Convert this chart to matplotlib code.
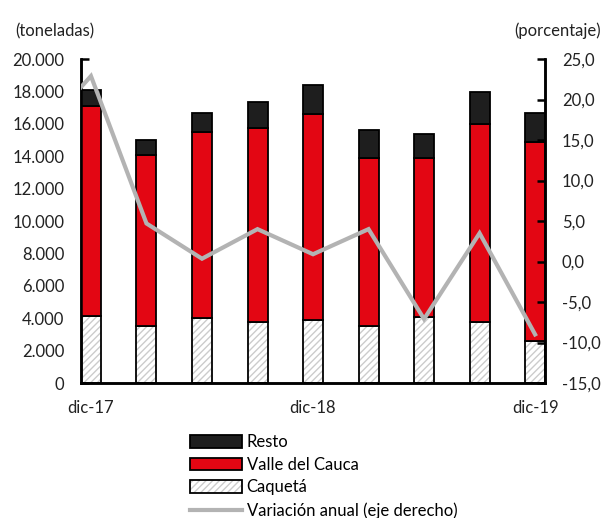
import matplotlib.pyplot as plt
from matplotlib.patches import Patch
from matplotlib.lines import Line2D
from matplotlib.legend_handler import HandlerTuple
import numpy as np

plt.rcParams['font.family'] = ['Lato', 'DejaVu Sans']
plt.rcParams['hatch.linewidth'] = 1.0

# datos trimestrales (toneladas)
periodos = ['dic-17', 'mar-18', 'jun-18', 'sep-18', 'dic-18', 'mar-19', 'jun-19', 'sep-19', 'dic-19']
caqueta = [4150, 3550, 4000, 3760, 3880, 3490, 4100, 3760, 2600]
valle = [12950, 10550, 11500, 11990, 12720, 10410, 9800, 12240, 12300]
resto = [1000, 880, 1180, 1620, 1770, 1740, 1480, 1970, 1740]
# variacion anual (%), el primer valor es el trimestre anterior (fuera del eje)
variacion = [15.3, 22.9, 4.7, 0.35, 4.0, 0.9, 4.0, -7.1, 3.5, -9.0]
etiquetas = {0: 'dic-17', 4: 'dic-18', 8: 'dic-19'}

x = np.arange(len(periodos))
w = 0.36
rojo = '#e30613'
negro = '#1e1e1e'
gris = '#b3b3b3'

fig = plt.figure(figsize=(6.07, 5.18), dpi=100)
ax = fig.add_axes([0.1334, 0.2606, 0.898 - 0.1334, 0.886 - 0.2606])
ax2 = ax.twinx()

valle_base = np.array(caqueta)
resto_base = valle_base + np.array(valle)

ax.bar(x, caqueta, w, color='white', edgecolor='#cccccc', hatch='/////', linewidth=0, zorder=2)
ax.bar(x, caqueta, w, fill=False, edgecolor='black', linewidth=1.3, zorder=3)
ax.bar(x, valle, w, bottom=valle_base, color=rojo, edgecolor='black', linewidth=1.3, zorder=3)
ax.bar(x, resto, w, bottom=resto_base, color=negro, edgecolor='black', linewidth=1.3, zorder=3)

xv = np.arange(-1, len(periodos))
ax2.plot(xv, variacion, color=gris, linewidth=3, solid_joinstyle='miter', zorder=4)

ax.set_xlim(-w / 2, len(periodos) - 1 + w / 2)
ax2.set_xlim(-w / 2, len(periodos) - 1 + w / 2)
ax.set_ylim(0, 20000)
ax2.set_ylim(-15, 25)
ax.set_yticks(np.arange(0, 20001, 2000))
ax.set_yticklabels([f'{v:,}'.replace(',', '.') for v in range(0, 20001, 2000)])
ax2.set_yticks(np.arange(-15, 26, 5))
ax2.set_yticklabels([f'{v:.1f}'.replace('.', ',') for v in range(-15, 26, 5)])
ax.set_xticks(list(etiquetas.keys()))
ax.set_xticklabels(list(etiquetas.values()))

for a in (ax, ax2):
    a.spines['top'].set_visible(False)
    for s in ('left', 'right', 'bottom'):
        a.spines[s].set_linewidth(1.8)
    a.tick_params(axis='y', direction='in', length=6, width=1.8, labelsize=12, colors='black',
                  labelcolor='#222222', pad=12)
ax.tick_params(axis='x', length=0, labelsize=12, labelcolor='#222222', pad=12)
ax2.set_zorder(ax.get_zorder() + 1)
ax2.patch.set_visible(False)

fig.text(0.025, 0.93, '(toneladas)', fontsize=12, color='#222222')
fig.text(0.99, 0.93, '(porcentaje)', fontsize=12, color='#222222', ha='right')

h_resto = Patch(facecolor=negro, edgecolor='black', linewidth=1.3)
h_valle = Patch(facecolor=rojo, edgecolor='black', linewidth=1.3)
h_caq = (Patch(facecolor='white', edgecolor='#cccccc', hatch='/////', linewidth=0),
         Patch(fill=False, edgecolor='black', linewidth=1.3))
h_var = Line2D([], [], color=gris, linewidth=3)
fig.legend([h_resto, h_valle, h_caq, h_var],
           ['Resto', 'Valle del Cauca', 'Caquetá', 'Variación anual (eje derecho)'],
           handler_map={tuple: HandlerTuple(ndivide=1)},
           loc='upper left', bbox_to_anchor=(0.313, 0.162), frameon=False, fontsize=12,
           handlelength=3.1, handleheight=0.8, handletextpad=0.3, labelspacing=0.4,
           borderpad=0, borderaxespad=0)

fig.savefig('out.png', dpi=100)
